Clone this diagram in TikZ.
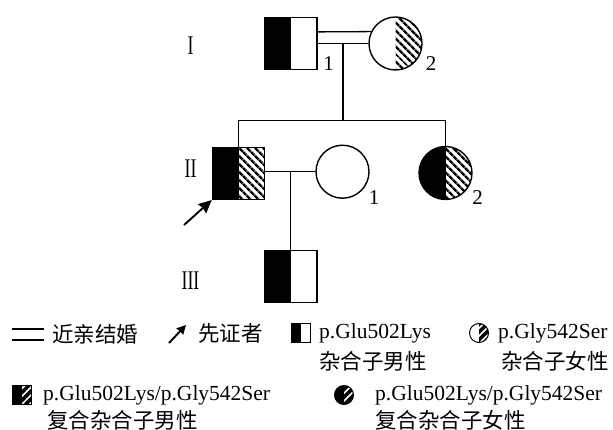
\documentclass[tikz,border=0pt]{standalone}
\usepackage{fontspec}
\usepackage{graphicx}
\setmainfont{Liberation Serif}
\newfontfamily\cjk{Noto Sans CJK SC}
\usetikzlibrary{patterns.meta,arrows.meta,calc}
\newcommand\romnum[1]{\scalebox{0.66}[1]{\fontsize{27}{27}\selectfont #1}}
\tikzset{
  sym/.style={draw, line width=1.4pt, inner sep=0pt},
  male/.style={sym, rectangle, minimum width=52pt, minimum height=52pt},
  female/.style={sym, circle, minimum size=53pt},
  smale/.style={draw, line width=1pt, inner sep=0pt, rectangle, minimum width=19pt, minimum height=19pt},
  sfemale/.style={draw, line width=1pt, inner sep=0pt, circle, minimum size=19pt},
  hbig/.style={pattern={Lines[angle=-45,distance=5.4pt,line width=2.6pt]}},
  hsmall/.style={pattern={Lines[angle=45,distance=5.5pt,line width=3.6pt]}},
  lblack/.style={path picture={\fill[black] (path picture bounding box.south west) rectangle (path picture bounding box.north);}},
  rhatch/.style={path picture={\fill[hbig] (path picture bounding box.south) rectangle (path picture bounding box.north east);}},
  lbrh/.style={path picture={\fill[black] (path picture bounding box.south west) rectangle (path picture bounding box.north);
      \fill[hbig] (path picture bounding box.south) rectangle (path picture bounding box.north east);}},
  rhatchs/.style={path picture={\fill[hsmall] (path picture bounding box.south) rectangle (path picture bounding box.north east);}},
  lbrhs/.style={path picture={\fill[black] (path picture bounding box.south west) rectangle (path picture bounding box.north);
      \fill[hsmall] (path picture bounding box.south) rectangle (path picture bounding box.north east);}},
  conn/.style={line width=1.3pt},
  lbl/.style={inner sep=0pt, font=\fontsize{21}{21}\selectfont},
  roman/.style={inner sep=0pt},
  legt/.style={inner sep=0pt, anchor=west, font=\fontsize{21.5}{21.5}\selectfont},
}
\begin{document}
\begin{tikzpicture}[x=1pt,y=-1pt]
\useasboundingbox[fill=white] (0,0) rectangle (613,430);

% generation labels
\node[roman] (g1) at (190.5,46) {\romnum{I}};
\node[roman] (g2) at (190.5,168.5) {\romnum{II}};
\node[roman] (g3) at (190.5,280.5) {\romnum{III}};

% generation I
\node[male, lblack] (I1) at (290.8,43.5) {};
\node[female, rhatch] (I2) at (395.5,43.5) {};
\node[lbl] (lI1) at (328.5,63.3) {1};
\node[lbl] (lI2) at (431,63.3) {2};
\draw[conn] (I1.east) -- (I2.west);
\draw[conn] ([yshift=11.6pt]I1.east) -- (I2.154.6);
\coordinate (m1) at ($(I1.east)!0.5!(I2.west)$);
\coordinate (sib) at (0,120.5);

% generation II
\node[male, lbrh] (II1) at (238.5,173.3) {};
\node[female] (II1w) at (342.5,171.7) {};
\node[female, lbrh] (II2) at (445.5,173) {};
\node[lbl] (lII1) at (374,198) {1};
\node[lbl] (lII2) at (477.7,198) {2};
\draw[conn] (m1) -- (m1 |- sib);
\draw[conn] (II1.north) -- (II1.north |- sib) -- (II2.north |- sib) -- (II2.north);
\draw[conn] (II1.east |- II1w.west) -- (II1w.west);
\coordinate (m2) at ($(II1.east |- II1w.west)!0.5!(II1w.west)$);

% generation III
\node[male, lblack] (III1) at (291,276.3) {};
\draw[conn] (m2) -- (m2 |- III1.north);

% proband arrow
\coordinate (pa) at (184,225);
\draw[line width=1.9pt, -{Stealth[length=13pt,width=12pt,inset=1pt]}] (pa) -- (II1.south west);

% legend row 1
\coordinate (dla) at (12,329);
\coordinate (dlb) at (44,329);
\coordinate (dlc) at (12,340);
\coordinate (dld) at (44,340);
\draw[line width=1.3pt] (dla) -- (dlb) (dlc) -- (dld);
\node[legt] (t1) at (52,334) {\cjk 近亲结婚};
\coordinate (laa) at (169,343);
\coordinate (lab) at (186,325);
\draw[line width=1.9pt, -{Stealth[length=9pt,width=9pt,inset=0.5pt]}] (laa) -- (lab);
\node[legt] (t2) at (198,333) {\cjk 先证者};
\node[smale, lblack] (k1) at (300.7,333.3) {};
\node[legt] (t3) at (319,333) {p.Glu502Lys};
\node[legt] (t3b) at (319,361) {\cjk 杂合子男性};
\node[sfemale, rhatchs] (k2) at (479,333) {};
\node[legt] (t4) at (498,333) {p.Gly542Ser};
\node[legt, anchor=east] (t4b) at (609,361) {\cjk 杂合子女性};

% legend row 2
\node[smale, lbrhs] (k3) at (22,395) {};
\node[legt] (t5) at (43,395) {p.Glu502Lys/p.Gly542Ser};
\node[legt] (t5b) at (47,420) {\cjk 复合杂合子男性};
\node[sfemale, lbrhs] (k4) at (344,395) {};
\node[legt] (t6) at (375,395) {p.Glu502Lys/p.Gly542Ser};
\node[legt] (t6b) at (375,420) {\cjk 复合杂合子女性};
\end{tikzpicture}
\end{document}
